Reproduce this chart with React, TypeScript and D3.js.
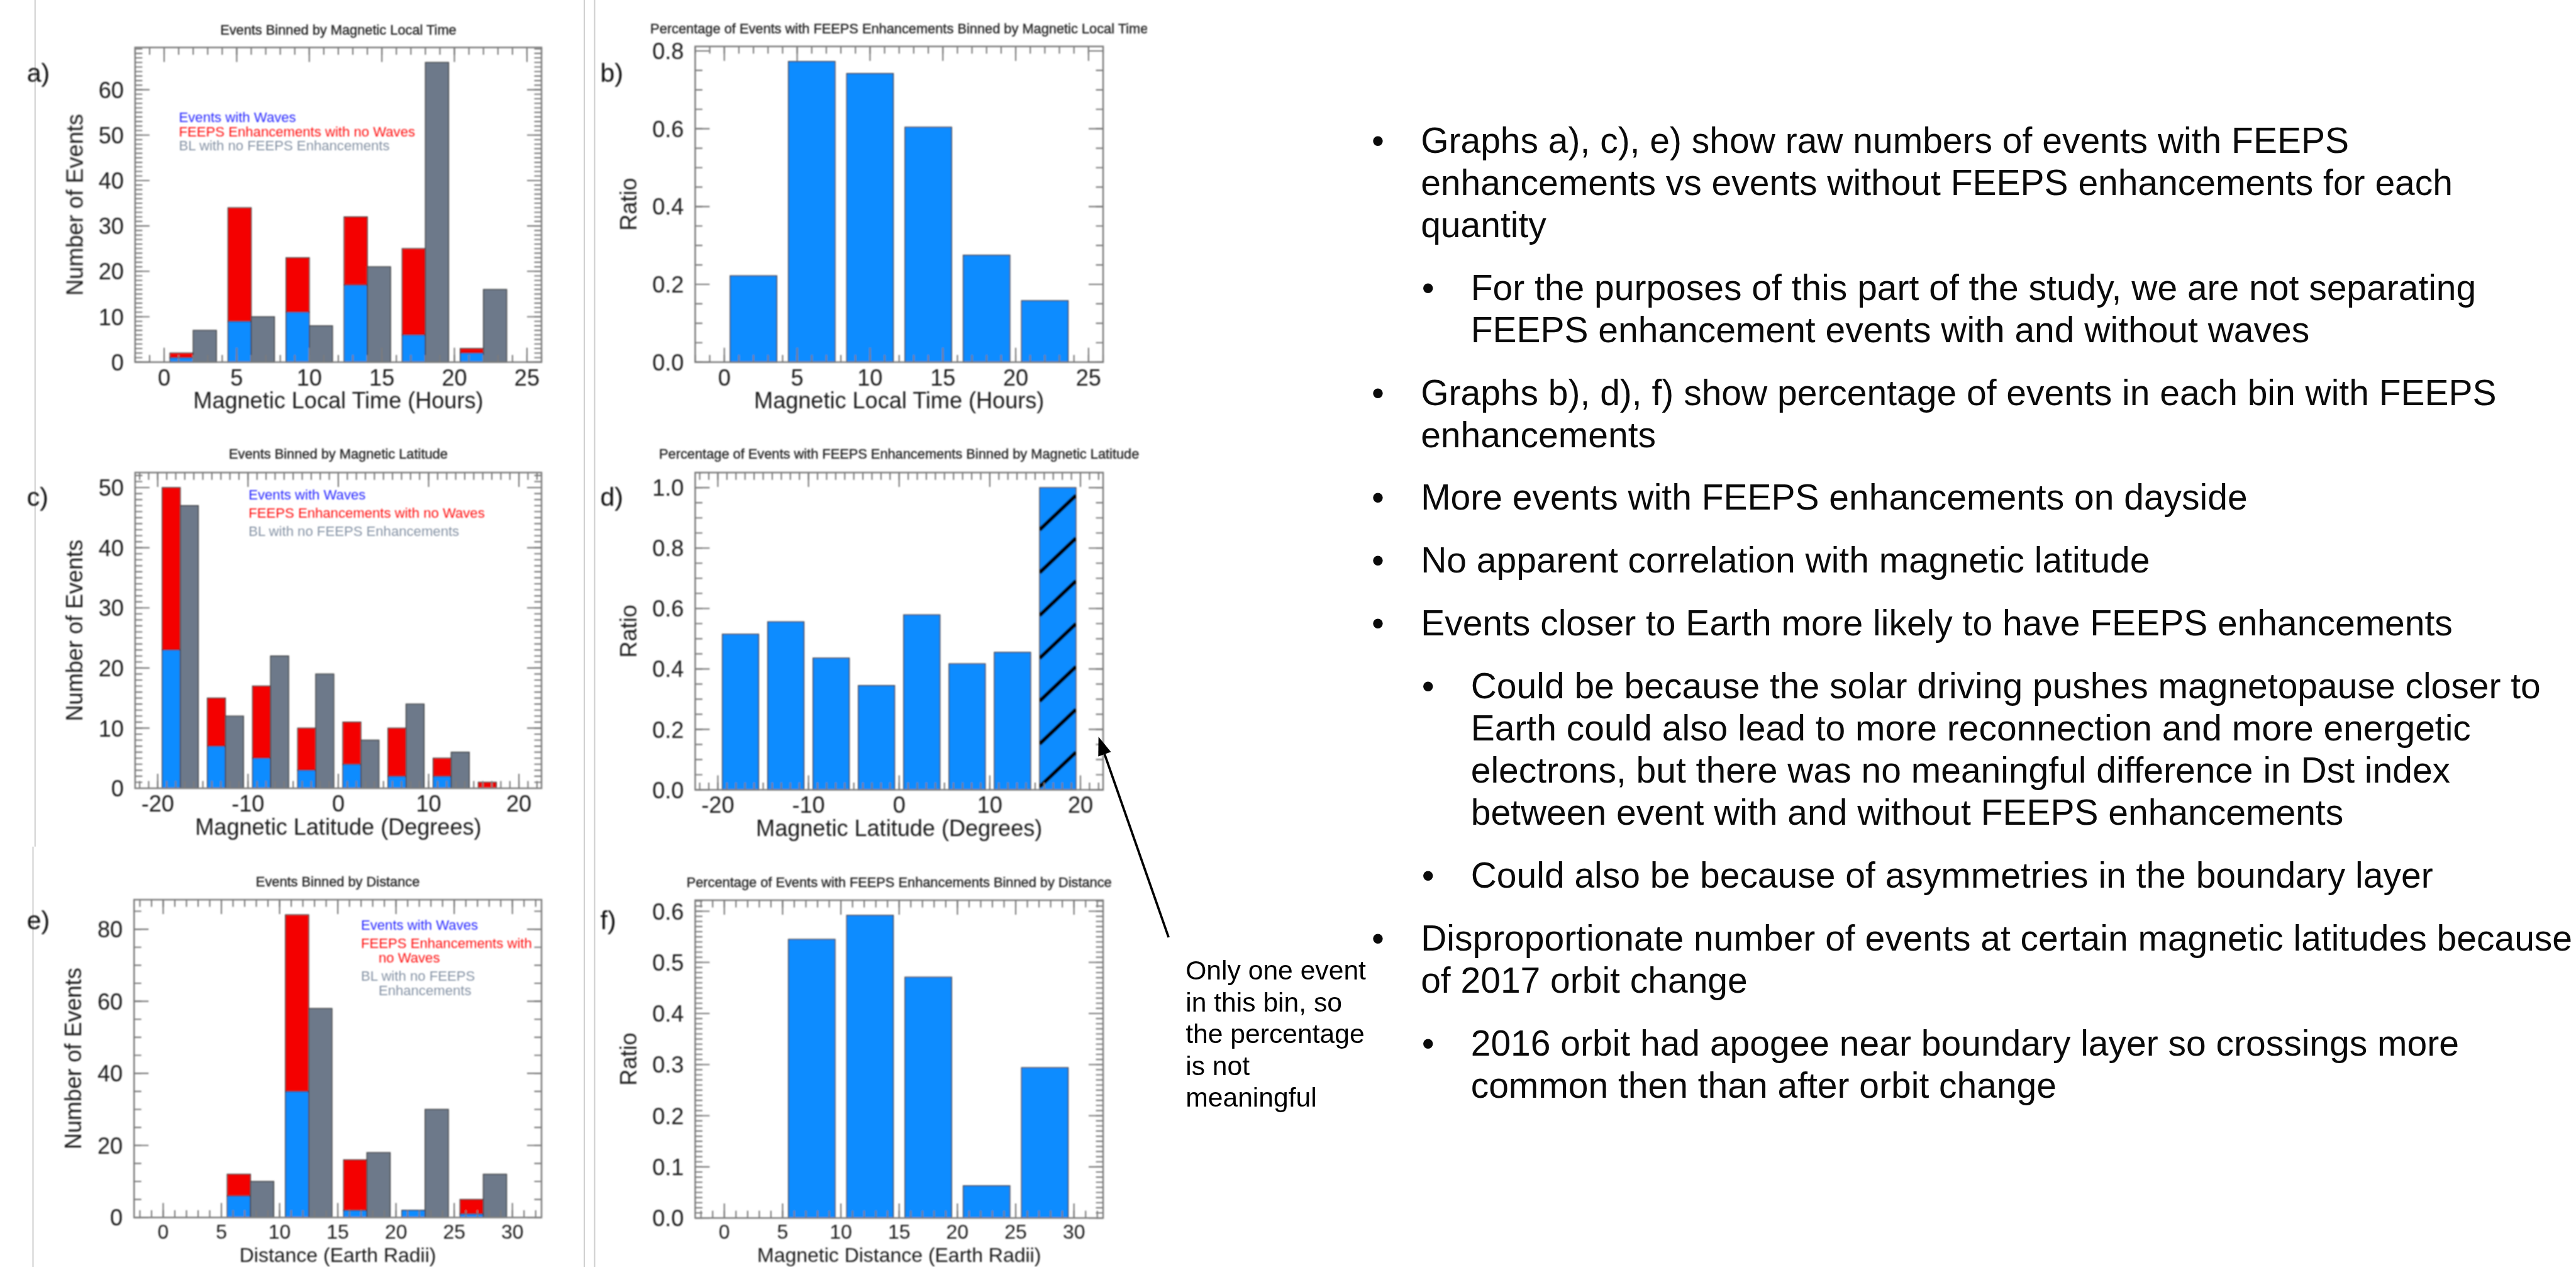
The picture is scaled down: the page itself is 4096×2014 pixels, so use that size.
import React from "react";
import * as d3 from "d3";

const FONT = '"Liberation Sans", Arial, Helvetica, sans-serif';

// ---- Events binned by magnetic local time (4-hour bins) ----
const mltBins = [0, 4, 8, 12, 16, 20];
const mltWaves = [1, 9, 11, 17, 6, 2];
const mltNoWaves = [1, 25, 12, 15, 19, 1];
const mltNoFeeps = [7, 10, 8, 21, 66, 16];
const mltRatio = [0.222, 0.773, 0.742, 0.604, 0.275, 0.158];
const mltRange: [number, number] = [-2, 26];
const mltTicks = [0, 5, 10, 15, 20, 25];

// ---- Events binned by magnetic latitude (5-degree bins) ----
const latBins = [-20, -15, -10, -5, 0, 5, 10, 15];
const latWaves = [23, 7, 5, 3, 4, 2, 2, 0];
const latNoWaves = [27, 8, 12, 7, 7, 8, 3, 1];
const latNoFeeps = [47, 12, 22, 19, 8, 14, 6, 0];
const latRatio = [0.515, 0.556, 0.436, 0.345, 0.579, 0.417, 0.455, 1.0];
const latSingleEventBin = 15;
const latRange: [number, number] = [-22.5, 22.5];
const latTicks = [-20, -10, 0, 10, 20];

// ---- Events binned by distance (5 Earth-radii bins) ----
const distBins = [0, 5, 10, 15, 20, 25];
const distWaves = [0, 6, 35, 2, 2, 1];
const distNoWaves = [0, 6, 49, 14, 0, 4];
const distNoFeeps = [0, 10, 58, 18, 30, 12];
const distRatioBins = [5, 10, 15, 20, 25];
const distRatio = [0.545, 0.592, 0.471, 0.063, 0.294];
const distRange: [number, number] = [-2.5, 32.5];
const distTicks = [0, 5, 10, 15, 20, 25, 30];

// ---- y-axis tick labels ----
const countTicksMlt = [0, 10, 20, 30, 40, 50, 60];
const countTicksLat = [0, 10, 20, 30, 40, 50];
const countTicksDist = [0, 20, 40, 60, 80];
const ratioTicksMlt = [0, 0.2, 0.4, 0.6, 0.8];
const ratioTicksLat = [0, 0.2, 0.4, 0.6, 0.8, 1.0];
const ratioTicksDist = [0, 0.1, 0.2, 0.3, 0.4, 0.5, 0.6];

const legendWaves = "Events with Waves";
const legendNoWaves = "FEEPS Enhancements with no Waves";
const legendNoFeeps = "BL with no FEEPS Enhancements";

const notes = [
  { level: 0, lines: ["Graphs a), c), e) show raw numbers of events with FEEPS", "enhancements vs events without FEEPS enhancements for each", "quantity"] },
  { level: 1, lines: ["For the purposes of this part of the study, we are not separating", "FEEPS enhancement events with and without waves"] },
  { level: 0, lines: ["Graphs b), d), f) show percentage of events in each bin with FEEPS", "enhancements"] },
  { level: 0, lines: ["More events with FEEPS enhancements on dayside"] },
  { level: 0, lines: ["No apparent correlation with magnetic latitude"] },
  { level: 0, lines: ["Events closer to Earth more likely to have FEEPS enhancements"] },
  { level: 1, lines: ["Could be because the solar driving pushes magnetopause closer to", "Earth could also lead to more reconnection and more energetic", "electrons, but there was no meaningful difference in Dst index", "between event with and without FEEPS enhancements"] },
  { level: 1, lines: ["Could also be because of asymmetries in the boundary layer"] },
  { level: 0, lines: ["Disproportionate number of events at certain magnetic latitudes because", "of 2017 orbit change"] },
  { level: 1, lines: ["2016 orbit had apogee near boundary layer so crossings more", "common then than after orbit change"] },
];

const calloutLines = ["Only one event", "in this bin, so", "the percentage", "is not", "meaningful"];

// ---- styling ----
const W = 4995, H = 2456;
const BLUE = "#118cff", RED = "#f40000", SLATE = "#6d798a";
const AXIS = "#7c7c7c", EDGE = "#3c3c3c", INK = "#1e1e1e";
const MAJOR = 28, MINOR = 14;

type Box = { x0: number; x1: number; y0: number; y1: number };

const BOX: Record<string, Box> = {
  a: { x0: 262, x1: 1050, y0: 92, y1: 702 },
  b: { x0: 1348, x1: 2139, y0: 90, y1: 702 },
  c: { x0: 262, x1: 1050, y0: 916, y1: 1528 },
  d: { x0: 1348, x1: 2139, y0: 916, y1: 1531 },
  e: { x0: 260, x1: 1050, y0: 1744, y1: 2360 },
  f: { x0: 1348, x1: 2139, y0: 1745, y1: 2361 },
};

function steps(domain: number[], step: number) {
  const n0 = Math.ceil(domain[0] / step - 1e-6);
  const n1 = Math.floor(domain[domain.length - 1] / step + 1e-6);
  return d3.range(n0, n1 + 1).map((i) => +(i * step).toFixed(6));
}

type PanelProps = {
  box: Box;
  xRange: [number, number];
  yMax: number;
  xTicks: number[];
  yTicks: number[];
  xMinor: number;
  yMinor: number;
  yFmt: (v: number) => string;
  title: string;
  titleY: number;
  clipRight?: number;
  xTitle: string;
  xTickOffset?: number;
  xTitleOffset?: number;
  xFontSize?: number;
  yTitle: string;
  yTitleX: number;
  label: string;
  labelX: number;
  labelY: number;
  id: string;
  marks: (x: d3.ScaleLinear<number, number>, y: d3.ScaleLinear<number, number>) => React.ReactNode;
};

function Panel(p: PanelProps) {
  const { box } = p;
  const x = d3.scaleLinear().domain(p.xRange).range([box.x0, box.x1]);
  const y = d3.scaleLinear().domain([0, p.yMax]).range([box.y1, box.y0]);
  const xm = steps(p.xRange, p.xMinor);
  const ym = steps([0, p.yMax], p.yMinor);
  const cx = (box.x0 + box.x1) / 2;
  const cy = (box.y0 + box.y1) / 2;
  const xfs = p.xFontSize ?? 44;
  return (
    <g>
      {p.clipRight !== undefined && (
        <clipPath id={"clip-" + p.id}>
          <rect x={0} y={0} width={p.clipRight} height={H} />
        </clipPath>
      )}
      <text
        x={cx}
        y={p.titleY}
        textAnchor="middle"
        fontSize={26.6}
        fill="#262626"
        stroke="#262626"
        strokeWidth={0.5}
        clipPath={p.clipRight !== undefined ? `url(#clip-${p.id})` : undefined}
      >
        {p.title}
      </text>
      {p.marks(x, y)}
      <g stroke={AXIS} strokeWidth={2.6} fill="none">
        {xm.map((v, i) => (
          <path key={"xm" + i} d={`M${x(v)},${box.y1}V${box.y1 - MINOR}M${x(v)},${box.y0}V${box.y0 + MINOR}`} />
        ))}
        {p.xTicks.map((v, i) => (
          <path key={"xM" + i} d={`M${x(v)},${box.y1}V${box.y1 - MAJOR}M${x(v)},${box.y0}V${box.y0 + MAJOR}`} />
        ))}
        {ym.map((v, i) => (
          <path key={"ym" + i} d={`M${box.x0},${y(v)}H${box.x0 + MINOR}M${box.x1},${y(v)}H${box.x1 - MINOR}`} />
        ))}
        {p.yTicks.map((v, i) => (
          <path key={"yM" + i} d={`M${box.x0},${y(v)}H${box.x0 + MAJOR}M${box.x1},${y(v)}H${box.x1 - MAJOR}`} />
        ))}
        <rect x={box.x0} y={box.y0} width={box.x1 - box.x0} height={box.y1 - box.y0} strokeWidth={3} />
      </g>
      <g fontSize={44} fill={INK}>
        {p.xTicks.map((v, i) => (
          <text key={"xl" + i} x={x(v)} y={box.y1 + (p.xTickOffset ?? 45)} textAnchor="middle" fontSize={xfs}>
            {String(v)}
          </text>
        ))}
        {p.yTicks.map((v, i) => (
          <text key={"yl" + i} x={box.x0 - 22} y={y(v) + 16} textAnchor="end">
            {p.yFmt(v)}
          </text>
        ))}
        <text x={cx} y={box.y1 + (p.xTitleOffset ?? 90)} textAnchor="middle" fontSize={xfs}>
          {p.xTitle}
        </text>
        <text transform={`translate(${p.yTitleX + 16},${cy}) rotate(-90)`} textAnchor="middle">
          {p.yTitle}
        </text>
      </g>
      <text x={p.labelX} y={p.labelY} fontSize={50} fill="#111">
        {p.label}
      </text>
    </g>
  );
}

// Stacked (waves + no-waves) bar next to a grey no-FEEPS bar for every bin
function countBars(bins: number[], width: number, waves: number[], noWaves: number[], noFeeps: number[]) {
  return (x: d3.ScaleLinear<number, number>, y: d3.ScaleLinear<number, number>) => (
    <g stroke={EDGE} strokeWidth={1.8}>
      {bins.map((b, i) => {
        const xa = x(b + 0.1 * width), xb = x(b + 0.5 * width), xc = x(b + 0.9 * width);
        const top = waves[i] + noWaves[i];
        return (
          <g key={i}>
            {waves[i] > 0 && <rect x={xa} y={y(waves[i])} width={xb - xa} height={y(0) - y(waves[i])} fill={BLUE} />}
            {noWaves[i] > 0 && <rect x={xa} y={y(top)} width={xb - xa} height={y(waves[i]) - y(top)} fill={RED} />}
            {noFeeps[i] > 0 && <rect x={xb} y={y(noFeeps[i])} width={xc - xb} height={y(0) - y(noFeeps[i])} fill={SLATE} />}
          </g>
        );
      })}
    </g>
  );
}

function ratioBars(bins: number[], width: number, ratio: number[], hatchBin?: number) {
  return (x: d3.ScaleLinear<number, number>, y: d3.ScaleLinear<number, number>) => (
    <g>
      {bins.map((b, i) => {
        const xa = x(b + 0.1 * width), xb = x(b + 0.9 * width);
        const bw = xb - xa;
        const top = y(ratio[i]), base = y(0);
        const hatched = hatchBin === b;
        const lines: number[] = [];
        if (hatched) {
          for (let yl = base - 6; yl > top + 1; yl -= 83) lines.push(yl);
        }
        return (
          <g key={i}>
            <rect x={xa} y={top} width={bw} height={base - top} fill={BLUE} stroke={EDGE} strokeWidth={1.8} />
            {hatched && (
              <g>
                <clipPath id={"hatch-" + i}>
                  <rect x={xa} y={top} width={bw} height={base - top} />
                </clipPath>
                <g clipPath={`url(#hatch-${i})`} stroke="#000" strokeWidth={7.5}>
                  {lines.map((yl, k) => (
                    <line key={k} x1={xa} y1={yl} x2={xb} y2={yl - bw * 0.95} />
                  ))}
                </g>
              </g>
            )}
          </g>
        );
      })}
    </g>
  );
}

function Legend({ x, rows }: { x: number; rows: { text: string; dx: number; y: number; color: string }[] }) {
  return (
    <g fontSize={27}>
      {rows.map((r, i) => (
        <text key={i} x={x + r.dx} y={r.y} fill={r.color}>
          {r.text}
        </text>
      ))}
    </g>
  );
}

const LEG_BLUE = "#2a2aff", LEG_RED = "#ff1414", LEG_GREY = "#8794a6";
const fmtInt = (v: number) => String(v);
const fmt1 = d3.format(".1f");

function Notes() {
  const top = 296, lineGap = 81.8, paraGap = 121.7;
  let yCur = top;
  const out: React.ReactNode[] = [];
  notes.forEach((n, pi) => {
    if (pi > 0) yCur += paraGap;
    const bx = n.level === 0 ? 2672 : 2769;
    const tx = n.level === 0 ? 2755 : 2852;
    out.push(
      <text key={"b" + pi} x={bx} y={yCur} textAnchor="middle">
        {"\u2022"}
      </text>
    );
    n.lines.forEach((l, li) => {
      if (li > 0) yCur += lineGap;
      out.push(
        <text key={"t" + pi + "-" + li} x={tx} y={yCur}>
          {l}
        </text>
      );
    });
  });
  return (
    <g fontSize={69.5} fill="#0a0a0a">
      {out}
    </g>
  );
}

function Callout() {
  const tip = [2130, 1428], tail = [2266, 1817];
  const ang = Math.atan2(tip[1] - tail[1], tip[0] - tail[0]);
  const L = 36, hw = 13;
  const bx = tip[0] - L * Math.cos(ang), by = tip[1] - L * Math.sin(ang);
  const nx = -Math.sin(ang), ny = Math.cos(ang);
  return (
    <g>
      <line x1={tail[0]} y1={tail[1]} x2={bx} y2={by} stroke="#000" strokeWidth={4.5} />
      <polygon points={`${tip[0]},${tip[1]} ${bx + nx * hw},${by + ny * hw} ${bx - nx * hw},${by - ny * hw}`} fill="#000" />
      <g fontSize={52} fill="#000">
        {calloutLines.map((l, i) => (
          <text key={i} x={2299} y={1899 + i * 61.5}>
            {l}
          </text>
        ))}
      </g>
    </g>
  );
}

export default function App() {
  const mltTop = d3.max(mltBins.map((_, i) => Math.max(mltWaves[i] + mltNoWaves[i], mltNoFeeps[i])))! * 1.05;
  const latTop = d3.max(latBins.map((_, i) => Math.max(latWaves[i] + latNoWaves[i], latNoFeeps[i])))! * 1.05;
  const distTop = d3.max(distBins.map((_, i) => Math.max(distWaves[i] + distNoWaves[i], distNoFeeps[i])))! * 1.05;

  return (
    <svg
      width={4096}
      height={2014}
      viewBox={`0 0 ${W} ${H}`}
      style={{ position: "absolute", left: 0, top: 0, background: "#fff" }}
      fontFamily={FONT}
    >
      <rect x={0} y={0} width={W} height={H} fill="#fff" />
      <defs>
        <filter id="soft" x="-2%" y="-2%" width="104%" height="104%">
          <feGaussianBlur stdDeviation={1.1} />
        </filter>
      </defs>

      {/* frame edges of the figure panels */}
      <g stroke="#cfcfcf" strokeWidth={2.5}>
        <line x1={68} y1={0} x2={68} y2={1641} />
        <line x1={64} y1={1641} x2={64} y2={H} />
        <line x1={1133} y1={0} x2={1133} y2={H} />
        <line x1={1153} y1={0} x2={1153} y2={H} />
      </g>

      <g filter="url(#soft)">
        <Panel
          id="a"
          box={BOX.a}
          xRange={mltRange}
          yMax={mltTop}
          xTicks={mltTicks}
          yTicks={countTicksMlt}
          xMinor={1}
          yMinor={1}
          yFmt={fmtInt}
          title="Events Binned by Magnetic Local Time"
          titleY={67.5}
          xTitle="Magnetic Local Time (Hours)"
          yTitle="Number of Events"
          yTitleX={144}
          label="a)"
          labelX={52}
          labelY={158}
          marks={countBars(mltBins, 4, mltWaves, mltNoWaves, mltNoFeeps)}
        />
        <Legend
          x={347}
          rows={[
            { text: legendWaves, dx: 0, y: 237, color: LEG_BLUE },
            { text: legendNoWaves, dx: 0, y: 264.5, color: LEG_RED },
            { text: legendNoFeeps, dx: 0, y: 291, color: LEG_GREY },
          ]}
        />

        <Panel
          id="b"
          box={BOX.b}
          xRange={mltRange}
          yMax={d3.max(mltRatio)! * 1.05}
          xTicks={mltTicks}
          yTicks={ratioTicksMlt}
          xMinor={1}
          yMinor={0.05}
          yFmt={fmt1}
          title="Percentage of Events with FEEPS Enhancements Binned by Magnetic Local Time"
          titleY={64.5}
          clipRight={2224}
          xTitle="Magnetic Local Time (Hours)"
          yTitle="Ratio"
          yTitleX={1218.6}
          label="b)"
          labelX={1164}
          labelY={158}
          marks={ratioBars(mltBins, 4, mltRatio)}
        />

        <Panel
          id="c"
          box={BOX.c}
          xRange={latRange}
          yMax={latTop}
          xTicks={latTicks}
          yTicks={countTicksLat}
          xMinor={1}
          yMinor={1}
          yFmt={fmtInt}
          title="Events Binned by Magnetic Latitude"
          titleY={889.5}
          xTitle="Magnetic Latitude (Degrees)"
          yTitle="Number of Events"
          yTitleX={144}
          label="c)"
          labelX={52}
          labelY={980}
          marks={countBars(latBins, 5, latWaves, latNoWaves, latNoFeeps)}
        />
        <Legend
          x={482}
          rows={[
            { text: legendWaves, dx: 0, y: 968.5, color: LEG_BLUE },
            { text: legendNoWaves, dx: 0, y: 1004, color: LEG_RED },
            { text: legendNoFeeps, dx: 0, y: 1039, color: LEG_GREY },
          ]}
        />

        <Panel
          id="d"
          box={BOX.d}
          xRange={latRange}
          yMax={d3.max(latRatio)! * 1.05}
          xTicks={latTicks}
          yTicks={ratioTicksLat}
          xMinor={1}
          yMinor={0.05}
          yFmt={fmt1}
          title="Percentage of Events with FEEPS Enhancements Binned by Magnetic Latitude"
          titleY={889.5}
          xTitle="Magnetic Latitude (Degrees)"
          yTitle="Ratio"
          yTitleX={1218.6}
          label="d)"
          labelX={1164}
          labelY={980}
          marks={ratioBars(latBins, 5, latRatio, latSingleEventBin)}
        />

        <Panel
          id="e"
          box={BOX.e}
          xRange={distRange}
          yMax={distTop}
          xTicks={distTicks}
          yTicks={countTicksDist}
          xMinor={1}
          yMinor={5}
          yFmt={fmtInt}
          title="Events Binned by Distance"
          titleY={1718.5}
          xTitle="Distance (Earth Radii)"
          xTickOffset={41}
          xTitleOffset={86}
          xFontSize={39}
          yTitle="Number of Events"
          yTitleX={141}
          label="e)"
          labelX={52}
          labelY={1801}
          marks={countBars(distBins, 5, distWaves, distNoWaves, distNoFeeps)}
        />
        <Legend
          x={700}
          rows={[
            { text: legendWaves, dx: 0, y: 1802.7, color: LEG_BLUE },
            { text: "FEEPS Enhancements with", dx: 0, y: 1837.7, color: LEG_RED },
            { text: "no Waves", dx: 34, y: 1865.5, color: LEG_RED },
            { text: "BL with no FEEPS", dx: 0, y: 1901, color: LEG_GREY },
            { text: "Enhancements", dx: 34, y: 1929.4, color: LEG_GREY },
          ]}
        />

        <Panel
          id="f"
          box={BOX.f}
          xRange={distRange}
          yMax={d3.max(distRatio)! * 1.05}
          xTicks={distTicks}
          yTicks={ratioTicksDist}
          xMinor={1}
          yMinor={0.01}
          yFmt={fmt1}
          title="Percentage of Events with FEEPS Enhancements Binned by Distance"
          titleY={1719.5}
          xTitle="Magnetic Distance (Earth Radii)"
          xTickOffset={40}
          xTitleOffset={85}
          xFontSize={39}
          yTitle="Ratio"
          yTitleX={1218.6}
          label="f)"
          labelX={1164}
          labelY={1801}
          marks={ratioBars(distRatioBins, 5, distRatio)}
        />
      </g>

      <Callout />
      <Notes />
    </svg>
  );
}
